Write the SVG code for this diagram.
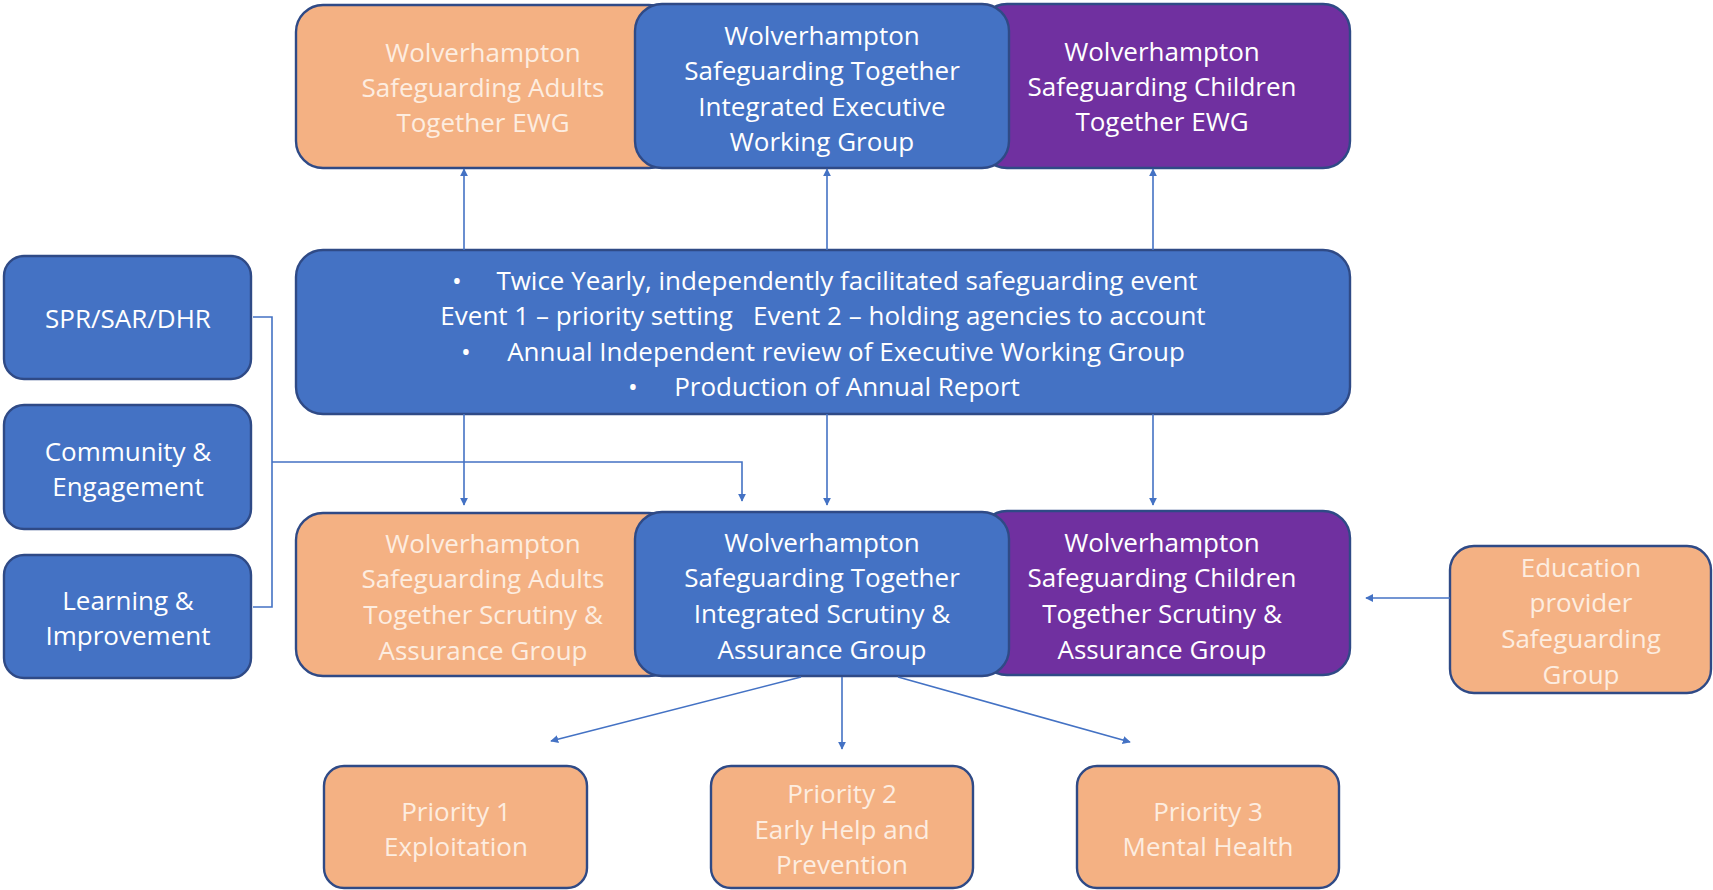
<svg xmlns="http://www.w3.org/2000/svg" width="1713" height="890" viewBox="0 0 1713 890">
<defs>
<marker id="ah" viewBox="0 0 10 10" refX="9" refY="5" markerWidth="5" markerHeight="5" orient="auto" markerUnits="strokeWidth">
<path d="M0,0 L10,5 L0,10 z" fill="#4472C4"/>
</marker>
<style>
.box{stroke:#2F4A86;stroke-width:2.4}
.or{fill:#F4B183}
.bl{fill:#4472C4}
.pu{fill:#7030A0}
text{font-family:"Open Sans","Liberation Sans",sans-serif;font-size:26px;text-anchor:middle;dominant-baseline:central}
.tw{fill:#FFFFFF}
.to{fill:#FDEDE0}
.con{fill:none;stroke:#4472C4;stroke-width:1.6}
.arr{marker-end:url(#ah)}
</style>
</defs>
<rect width="1713" height="890" fill="#FFFFFF"/>

<g id="top-adults">
<rect class="box or" x="296" y="5" width="380" height="163" rx="27"/>
<text class="to" x="483" y="52">Wolverhampton</text>
<text class="to" x="483" y="87">Safeguarding Adults</text>
<text class="to" x="483" y="122">Together EWG</text>
</g>
<g id="top-children">
<rect class="box pu" x="980" y="4" width="370" height="164" rx="27"/>
<text class="tw" x="1162" y="51">Wolverhampton</text>
<text class="tw" x="1162" y="86">Safeguarding Children</text>
<text class="tw" x="1162" y="121">Together EWG</text>
</g>
<g id="top-integrated">
<rect class="box bl" x="635" y="4" width="374" height="164" rx="27"/>
<text class="tw" x="822" y="35">Wolverhampton</text>
<text class="tw" x="822" y="70">Safeguarding Together</text>
<text class="tw" x="822" y="106">Integrated Executive</text>
<text class="tw" x="822" y="141">Working Group</text>
</g>

<g id="event">
<rect class="box bl" x="296" y="250" width="1054" height="164" rx="27"/>
<text class="tw" x="457" y="280">•</text>
<text class="tw" x="847" y="280">Twice Yearly, independently facilitated safeguarding event</text>
<text class="tw" x="823" y="315" xml:space="preserve">Event 1 – priority setting   Event 2 – holding agencies to account</text>
<text class="tw" x="466" y="351">•</text>
<text class="tw" x="846" y="351">Annual Independent review of Executive Working Group</text>
<text class="tw" x="633" y="386">•</text>
<text class="tw" x="847" y="386">Production of Annual Report</text>
</g>

<g id="spr">
<rect class="box bl" x="4" y="256" width="247" height="123" rx="20"/>
<text class="tw" x="128" y="318">SPR/SAR/DHR</text>
</g>
<g id="community">
<rect class="box bl" x="4" y="405" width="247" height="124" rx="20"/>
<text class="tw" x="128" y="451">Community &amp;</text>
<text class="tw" x="128" y="486">Engagement</text>
</g>
<g id="learning">
<rect class="box bl" x="4" y="555" width="247" height="123" rx="20"/>
<text class="tw" x="128" y="600">Learning &amp;</text>
<text class="tw" x="128" y="635">Improvement</text>
</g>

<g id="scrutiny-adults">
<rect class="box or" x="296" y="513" width="380" height="163" rx="27"/>
<text class="to" x="483" y="543">Wolverhampton</text>
<text class="to" x="483" y="578">Safeguarding Adults</text>
<text class="to" x="483" y="614">Together Scrutiny &amp;</text>
<text class="to" x="483" y="650">Assurance Group</text>
</g>
<g id="scrutiny-children">
<rect class="box pu" x="980" y="511" width="370" height="164" rx="27"/>
<text class="tw" x="1162" y="542">Wolverhampton</text>
<text class="tw" x="1162" y="577">Safeguarding Children</text>
<text class="tw" x="1162" y="613">Together Scrutiny &amp;</text>
<text class="tw" x="1162" y="649">Assurance Group</text>
</g>
<g id="scrutiny-integrated">
<rect class="box bl" x="635" y="512" width="374" height="164" rx="27"/>
<text class="tw" x="822" y="542">Wolverhampton</text>
<text class="tw" x="822" y="577">Safeguarding Together</text>
<text class="tw" x="822" y="613">Integrated Scrutiny &amp;</text>
<text class="tw" x="822" y="649">Assurance Group</text>
</g>

<g id="education">
<rect class="box or" x="1450" y="546" width="261" height="147" rx="24"/>
<text class="to" x="1581" y="567">Education</text>
<text class="to" x="1581" y="602">provider</text>
<text class="to" x="1581" y="638">Safeguarding</text>
<text class="to" x="1581" y="674">Group</text>
</g>

<g id="priority1">
<rect class="box or" x="324" y="766" width="263" height="122" rx="20"/>
<text class="to" x="456" y="811">Priority 1</text>
<text class="to" x="456" y="846">Exploitation</text>
</g>
<g id="priority2">
<rect class="box or" x="711" y="766" width="262" height="122" rx="20"/>
<text class="to" x="842" y="793">Priority 2</text>
<text class="to" x="842" y="829">Early Help and</text>
<text class="to" x="842" y="864">Prevention</text>
</g>
<g id="priority3">
<rect class="box or" x="1077" y="766" width="262" height="122" rx="20"/>
<text class="to" x="1208" y="811">Priority 3</text>
<text class="to" x="1208" y="846">Mental Health</text>
</g>

<g id="connectors">
<line class="con arr" x1="464" y1="250" x2="464" y2="169"/>
<line class="con arr" x1="827" y1="250" x2="827" y2="169"/>
<line class="con arr" x1="1153" y1="250" x2="1153" y2="169"/>
<line class="con arr" x1="464" y1="414" x2="464" y2="505"/>
<line class="con arr" x1="827" y1="414" x2="827" y2="505"/>
<line class="con arr" x1="1153" y1="414" x2="1153" y2="505"/>
<polyline class="con" points="253,317 272,317 272,607 253,607"/>
<polyline class="con arr" points="272,462 742,462 742,501"/>
<line class="con arr" x1="1450" y1="598" x2="1366" y2="598"/>
<line class="con arr" x1="801" y1="677" x2="551" y2="741"/>
<line class="con arr" x1="842" y1="677" x2="842" y2="749"/>
<line class="con arr" x1="898" y1="677" x2="1130" y2="742"/>
</g>
</svg>
